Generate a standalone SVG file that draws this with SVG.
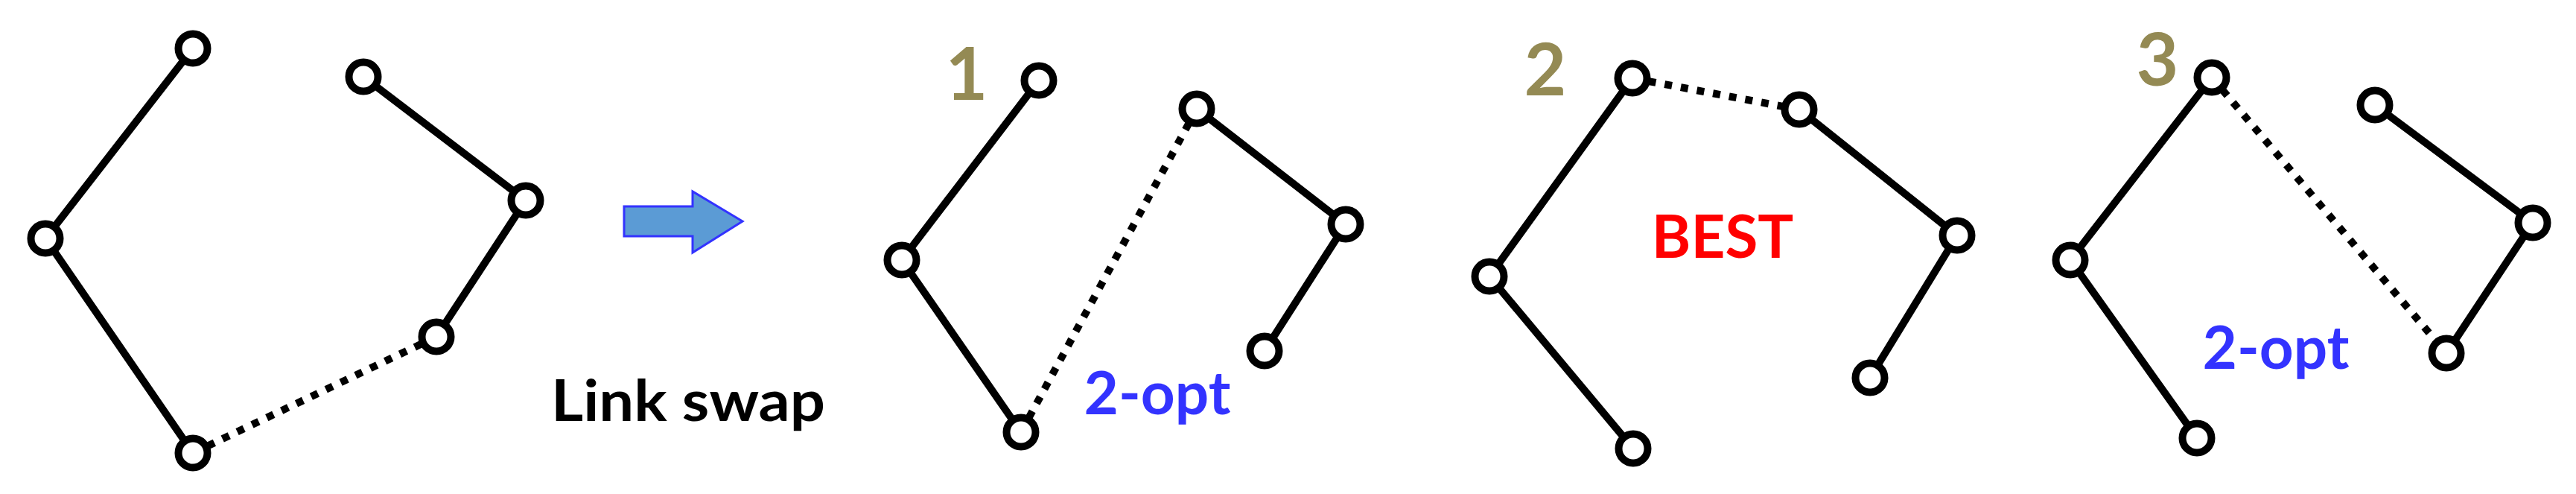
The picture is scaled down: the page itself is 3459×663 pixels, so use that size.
<svg xmlns="http://www.w3.org/2000/svg" width="3459" height="663" viewBox="0 0 3459 663">
<style>
.link{stroke:#000;stroke-width:10;fill:none;stroke-linecap:round}
.swap{stroke:#000;stroke-width:10;fill:none;stroke-dasharray:10 12}
.node{fill:#fff;stroke:#000;stroke-width:10}
.num{font-family:Lato,"Liberation Sans",sans-serif;font-weight:bold;fill:#948A54;font-size:98px;text-anchor:middle}
.opt{font-family:Lato,"Liberation Sans",sans-serif;font-weight:bold;fill:#3333FF;font-size:80px;text-anchor:middle}
.lbl{font-family:Lato,"Liberation Sans",sans-serif;font-weight:bold;font-size:77px}
</style>
<rect width="3459" height="663" fill="#fff"/>
<g id="connectors">
<!-- panel 0 -->
<line class="link" x1="259" y1="65" x2="61" y2="320"/>
<line class="link" x1="61" y1="320" x2="259" y2="608"/>
<line class="link" x1="488" y1="103" x2="706" y2="269"/>
<line class="link" x1="706" y1="269" x2="586" y2="452"/>
<line class="swap" x1="259" y1="608" x2="586" y2="452"/>
<!-- panel 1 -->
<line class="link" x1="1395" y1="108" x2="1211" y2="349"/>
<line class="link" x1="1211" y1="349" x2="1371" y2="580"/>
<line class="link" x1="1607" y1="146" x2="1807" y2="301"/>
<line class="link" x1="1807" y1="301" x2="1698" y2="471"/>
<line class="swap" x1="1371" y1="580" x2="1607" y2="146"/>
<!-- panel 2 -->
<line class="link" x1="2192" y1="105" x2="2000" y2="371"/>
<line class="link" x1="2000" y1="371" x2="2193" y2="602"/>
<line class="link" x1="2416" y1="147" x2="2628" y2="316"/>
<line class="link" x1="2628" y1="316" x2="2511" y2="507"/>
<line class="swap" x1="2192" y1="105" x2="2416" y2="147"/>
<!-- panel 3 -->
<line class="link" x1="2970" y1="104" x2="2780" y2="349"/>
<line class="link" x1="2780" y1="349" x2="2950" y2="588"/>
<line class="link" x1="3189" y1="141" x2="3401" y2="299"/>
<line class="link" x1="3401" y1="299" x2="3285" y2="474"/>
<line class="swap" x1="2970" y1="104" x2="3285" y2="474"/>
</g>
<g id="p0-n1"><circle class="node" cx="259" cy="65" r="19.5"/></g>
<g id="p0-n2"><circle class="node" cx="61" cy="320" r="19.5"/></g>
<g id="p0-n3"><circle class="node" cx="259" cy="608" r="19.5"/></g>
<g id="p0-n4"><circle class="node" cx="488" cy="103" r="19.5"/></g>
<g id="p0-n5"><circle class="node" cx="706" cy="269" r="19.5"/></g>
<g id="p0-n6"><circle class="node" cx="586" cy="452" r="19.5"/></g>
<g id="p1-n1"><circle class="node" cx="1395" cy="108" r="19.5"/></g>
<g id="p1-n2"><circle class="node" cx="1211" cy="349" r="19.5"/></g>
<g id="p1-n3"><circle class="node" cx="1371" cy="580" r="19.5"/></g>
<g id="p1-n4"><circle class="node" cx="1607" cy="146" r="19.5"/></g>
<g id="p1-n5"><circle class="node" cx="1807" cy="301" r="19.5"/></g>
<g id="p1-n6"><circle class="node" cx="1698" cy="471" r="19.5"/></g>
<g id="p2-n1"><circle class="node" cx="2192" cy="105" r="19.5"/></g>
<g id="p2-n2"><circle class="node" cx="2000" cy="371" r="19.5"/></g>
<g id="p2-n3"><circle class="node" cx="2193" cy="602" r="19.5"/></g>
<g id="p2-n4"><circle class="node" cx="2416" cy="147" r="19.5"/></g>
<g id="p2-n5"><circle class="node" cx="2628" cy="316" r="19.5"/></g>
<g id="p2-n6"><circle class="node" cx="2511" cy="507" r="19.5"/></g>
<g id="p3-n1"><circle class="node" cx="2970" cy="104" r="19.5"/></g>
<g id="p3-n2"><circle class="node" cx="2780" cy="349" r="19.5"/></g>
<g id="p3-n3"><circle class="node" cx="2950" cy="588" r="19.5"/></g>
<g id="p3-n4"><circle class="node" cx="3189" cy="141" r="19.5"/></g>
<g id="p3-n5"><circle class="node" cx="3401" cy="299" r="19.5"/></g>
<g id="p3-n6"><circle class="node" cx="3285" cy="474" r="19.5"/></g>
<g id="arrow"><polygon points="838,277 930,277 930,257 997,297 930,339 930,317 838,317" fill="#5B9BD5" stroke="#3333FF" stroke-width="3"/></g>
<g id="labels">
<text class="lbl" x="740" y="565" textLength="368" lengthAdjust="spacingAndGlyphs">Link swap</text>
<text class="num" x="1298" y="134">1</text>
<text class="num" x="2075" y="128">2</text>
<text class="num" x="2897" y="115">3</text>
<text class="opt" x="1554" y="556">2-opt</text>
<text class="opt" x="3056" y="495">2-opt</text>
<text class="opt" x="2313" y="346" style="fill:#FF0000">BEST</text>
</g>
</svg>
